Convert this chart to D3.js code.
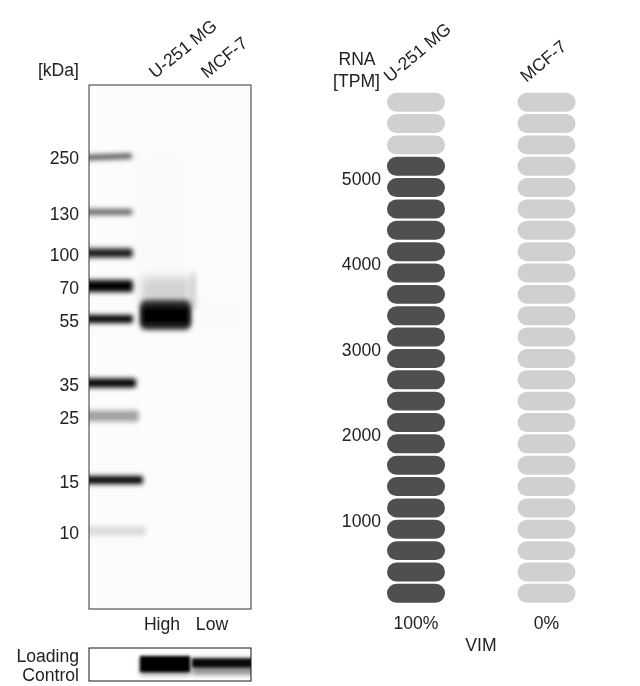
<!DOCTYPE html>
<html>
<head>
<meta charset="utf-8">
<script src="https://cdn.jsdelivr.net/npm/d3@7"></script>
<style>
  html, body { margin: 0; padding: 0; background: #fff; }
  svg { display: block; }
  text, .tick text { font-family: "Liberation Sans", Arial, sans-serif; font-size: 17.6px; fill: #222; }
</style>
</head>
<body>
<div id="chart"></div>
<script>
// Values
const lanes = ["U-251 MG", "MCF-7"];
const laneLevels = ["High", "Low"];
const ladderKda = [250, 130, 100, 70, 55, 35, 25, 15, 10];
const ladderDarkness = [0.72, 0.6, 0.9, 1, 1, 1, 0.36, 1, 0.13];
const ladderThickness = [5, 6, 9, 12, 8, 9, 11, 8, 9];
const targetKda = 57;
const targetDarkness = [1, 0.008];
const loadingDarkness = [1, 0.95];
const loadingThickness = [16, 9];
const rnaTicks = [1000, 2000, 3000, 4000, 5000];
const rnaValues = [5200, 0];
const rnaPercent = ["100%", "0%"];
const rnaStep = 250;
const rnaSteps = d3.range(0, 6000, rnaStep);
const geneName = "VIM";

const width = 640, height = 686;
const blot = { left: 89, right: 251, top: 85, bottom: 609 };
const control = { top: 648, bottom: 681 };

const svg = d3.select("#chart").append("svg")
  .attr("width", width)
  .attr("height", height);

const defs = svg.append("defs");
[["blur06", 0.35], ["blur1", 1.6], ["blurLadder", 2.4], ["blur2", 2.8], ["blur4", 5], ["blur10", 10]].forEach(function (f) {
  defs.append("filter").attr("id", f[0])
    .attr("filterUnits", "userSpaceOnUse")
    .attr("x", 0).attr("y", 0).attr("width", width).attr("height", height)
    .append("feGaussianBlur").attr("stdDeviation", f[1]);
});
defs.append("clipPath").attr("id", "blotClip").append("rect")
  .attr("x", blot.left).attr("y", blot.top)
  .attr("width", blot.right - blot.left).attr("height", blot.bottom - blot.top);
defs.append("clipPath").attr("id", "controlClip").append("rect")
  .attr("x", blot.left).attr("y", control.top)
  .attr("width", blot.right - blot.left).attr("height", control.bottom - control.top);

const root = svg.append("g").attr("filter", "url(#blur06)");

// Scales
const kdaY = d3.scaleLog()
  .domain(ladderKda)
  .range([156, 212, 253, 286, 319, 383, 416, 480, 531]);
const ladderEnd = d3.scaleLog()
  .domain([250, 55, 35, 15, 10])
  .range([132, 133, 136, 143, 146]);
const laneX = d3.scaleBand().domain(lanes).range([139, 243]);
const tpmY = d3.scaleLinear().domain([0, 6000]).range([604, 91.5]);
const rnaX = d3.scalePoint().domain(lanes).range([416, 546.5]);
const pillW = 58;

// Western blot panel
const gel = root.append("g").attr("clip-path", "url(#blotClip)");
gel.append("rect")
  .attr("x", blot.left).attr("y", blot.top)
  .attr("width", blot.right - blot.left).attr("height", blot.bottom - blot.top)
  .attr("fill", "#fcfcfc");

const ink = function (d) { return "rgba(0,0,0," + d + ")"; };

gel.selectAll(".ladder")
  .data(ladderKda)
  .enter()
  .append("rect")
  .attr("class", "ladder")
  .attr("x", blot.left - 8)
  .attr("y", function (d, i) { return kdaY(d) - ladderThickness[i] / 2; })
  .attr("width", function (d) { return ladderEnd(d) - blot.left + 8; })
  .attr("height", function (d, i) { return ladderThickness[i]; })
  .attr("rx", 2)
  .attr("fill", function (d, i) { return ink(ladderDarkness[i]); })
  .attr("filter", "url(#blurLadder)")
  .attr("transform", function (d, i) {
    return i === 0 ? "rotate(-2 " + ladderEnd(d) + " " + kdaY(d) + ")" : null;
  });

// faint smear above the target band
const smear = [[targetKda + 200, targetKda + 25, 0.012, "blur10"], [targetKda + 20, targetKda + 4, 0.16, "blur4"]];
gel.selectAll(".smear")
  .data(smear)
  .enter()
  .append("rect")
  .attr("class", "smear")
  .attr("x", laneX(lanes[0]) + 2)
  .attr("y", function (d) { return kdaY(d[0]); })
  .attr("width", laneX.bandwidth() - 2)
  .attr("height", function (d) { return kdaY(d[1]) - kdaY(d[0]); })
  .attr("fill", function (d) { return ink(d[2]); })
  .attr("filter", function (d) { return "url(#" + d[3] + ")"; });

// streak along the right edge of the lane
gel.append("rect")
  .attr("x", laneX(lanes[0]) + laneX.bandwidth() + 1)
  .attr("y", kdaY(targetKda + 24))
  .attr("width", 3)
  .attr("height", kdaY(targetKda + 2) - kdaY(targetKda + 24))
  .attr("fill", ink(0.22))
  .attr("filter", "url(#blurLadder)");

gel.selectAll(".target")
  .data(lanes)
  .enter()
  .append("rect")
  .attr("class", "target")
  .attr("x", function (d) { return laneX(d) + 1; })
  .attr("y", kdaY(targetKda) - 14)
  .attr("width", laneX.bandwidth() - 1)
  .attr("height", 30)
  .attr("rx", 6)
  .attr("fill", function (d, i) { return ink(targetDarkness[i] * 0.8); })
  .attr("filter", "url(#blur2)");

gel.append("rect")
  .attr("x", laneX(lanes[0]) + 3)
  .attr("y", kdaY(targetKda) - 7)
  .attr("width", laneX.bandwidth() - 5)
  .attr("height", 17)
  .attr("fill", "#000")
  .attr("filter", "url(#blur2)");

root.append("rect")
  .attr("x", blot.left).attr("y", blot.top)
  .attr("width", blot.right - blot.left).attr("height", blot.bottom - blot.top)
  .attr("fill", "none").attr("stroke", "#333").attr("stroke-width", 1);

// Loading control panel
const ctrl = root.append("g").attr("clip-path", "url(#controlClip)");
const ctrlMid = 664;
ctrl.selectAll(".ctrlShadow")
  .data(lanes)
  .enter()
  .append("rect")
  .attr("class", "ctrlShadow")
  .attr("x", function (d) { return laneX(d) + 1; })
  .attr("y", ctrlMid - 6)
  .attr("width", function (d, i) { return laneX.bandwidth() + (i === 1 ? 20 : -2); })
  .attr("height", 17)
  .attr("fill", "rgba(0,0,0,0.42)")
  .attr("filter", "url(#blur2)");
ctrl.selectAll(".ctrlBand")
  .data(lanes)
  .enter()
  .append("rect")
  .attr("class", "ctrlBand")
  .attr("x", function (d) { return laneX(d) + 1; })
  .attr("y", function (d, i) { return ctrlMid - loadingThickness[i] / 2 - (i === 0 ? 0 : 1); })
  .attr("width", function (d, i) { return laneX.bandwidth() + (i === 1 ? 20 : -2); })
  .attr("height", function (d, i) { return loadingThickness[i]; })
  .attr("fill", function (d, i) { return ink(loadingDarkness[i]); })
  .attr("filter", "url(#blur1)");
root.append("rect")
  .attr("x", blot.left).attr("y", control.top)
  .attr("width", blot.right - blot.left).attr("height", control.bottom - control.top)
  .attr("fill", "none").attr("stroke", "#111").attr("stroke-width", 1);

// kDa axis
const kdaAxis = root.append("g")
  .attr("transform", "translate(82,1.5)")
  .call(d3.axisLeft(kdaY).tickValues(ladderKda).tickSize(0).tickFormat(d3.format("d")));
kdaAxis.select(".domain").remove();

root.append("text").attr("x", 79).attr("y", 76).attr("text-anchor", "end").text("[kDa]");

lanes.forEach(function (d, i) {
  root.append("text")
    .attr("transform", "translate(" + (laneX(d) + 16) + ",79) rotate(-39)")
    .text(d);
  root.append("text")
    .attr("x", laneX(d) + 23 - i * 2)
    .attr("y", 630)
    .attr("text-anchor", "middle")
    .text(laneLevels[i]);
});

root.append("text").attr("x", 79).attr("y", 662).attr("text-anchor", "end").text("Loading");
root.append("text").attr("x", 79).attr("y", 680.5).attr("text-anchor", "end").text("Control");

// RNA panel
const tpmAxis = root.append("g")
  .attr("transform", "translate(384,2)")
  .call(d3.axisLeft(tpmY).tickValues(rnaTicks).tickSize(0).tickFormat(d3.format("d")));
tpmAxis.select(".domain").remove();

root.append("text").attr("x", 357).attr("y", 65).attr("text-anchor", "middle").text("RNA");
root.append("text").attr("x", 380).attr("y", 87).attr("text-anchor", "end").text("[TPM]");

const columns = root.selectAll(".rnaColumn")
  .data(lanes)
  .enter()
  .append("g")
  .attr("class", "rnaColumn")
  .attr("transform", function (d) { return "translate(" + rnaX(d) + ",0)"; });

columns.selectAll("rect")
  .data(function (d, i) {
    return rnaSteps.map(function (s) { return { step: s, on: s < rnaValues[i] }; });
  })
  .enter()
  .append("rect")
  .attr("x", -pillW / 2)
  .attr("y", function (d) { return tpmY(d.step + rnaStep) + 1.2; })
  .attr("width", pillW)
  .attr("height", function (d) { return tpmY(d.step) - tpmY(d.step + rnaStep) - 2.4; })
  .attr("rx", 9.5)
  .attr("fill", function (d) { return d.on ? "#505050" : "#d0d0d0"; });

columns.append("text")
  .attr("y", 629)
  .attr("text-anchor", "middle")
  .text(function (d, i) { return rnaPercent[i]; });

columns.append("text")
  .attr("transform", function (d, i) {
    return "translate(" + (i === 0 ? -26 : -20) + ",83) rotate(-40)";
  })
  .text(function (d) { return d; });

root.append("text").attr("x", 481).attr("y", 651).attr("text-anchor", "middle").text(geneName);
</script>
</body>
</html>
